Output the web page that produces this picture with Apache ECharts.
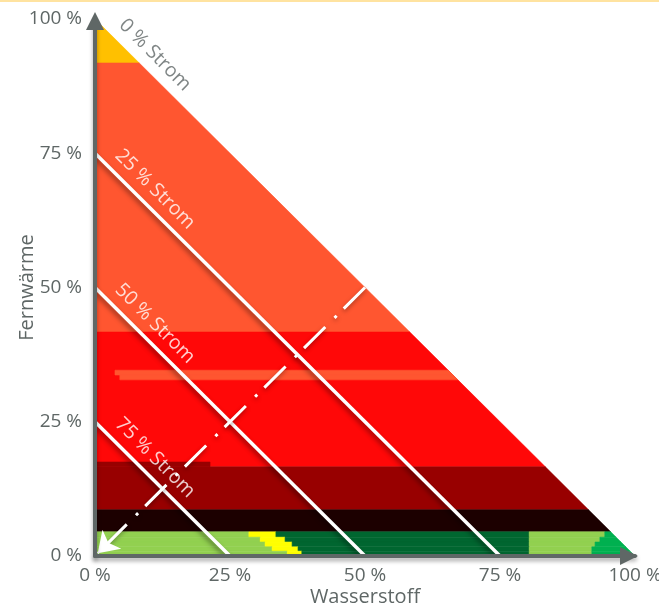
<!DOCTYPE html>
<html>
<head>
<meta charset="utf-8">
<script src="https://cdn.jsdelivr.net/npm/echarts@6/dist/echarts.min.js"></script>
<style>
html,body{margin:0;padding:0;background:#fff;}
#chart{width:659px;height:611px;}
</style>
</head>
<body>
<div id="chart"></div>
<script>
// ---- data (percent values) ----
const tickValues = [0, 25, 50, 75, 100];
const xAxisName = 'Wasserstoff';
const yAxisName = 'Fernwärme';

// upper horizontal bands: [x from, x to, Fernwärme from, Fernwärme to, kind]
const upperBands = [
  [0, 100, 91.8, 100, 'gelb'],
  [0, 100, 41.7, 91.8, 'orange'],
  [0, 100, 16.6, 41.7, 'rot'],
  [3.7, 100, 33.7, 34.6, 'orange'],
  [4.6, 100, 32.8, 33.7, 'orange'],
  [0, 100, 8.6, 16.6, 'dunkelrot'],
  [0, 21.3, 16.6, 17.5, 'dunkelrot'],
  [0, 100, 4.5, 8.6, 'schwarz']
];

// bottom band rows (Fernwärme limits) and where each colour ends (Wasserstoff %)
const bottomRowY = [4.5, 3.5, 2.6, 1.7, 0.9, 0];
const bottomHellgruenEnd = [28.5, 30.6, 31.5, 32.8, 35.6];
const bottomGelbEnd = [33.5, 35.2, 36.5, 37.6, 38.3];
const bottomDunkelgruenEnd = [80.4, 80.4, 80.4, 80.4, 80.4];
const bottomHellgruen2End = [94.4, 93.5, 92.6, 92.0, 92.0];

// Strom iso-lines
const stromLevels = [75, 50, 25];
const stromLabelLevels = [100, 75, 50, 25];
const stromLabelTexts = ['0 % Strom', '25 % Strom', '50 % Strom', '75 % Strom'];

// dashed arrow (start -> end)
const arrowStart = [50, 50];
const arrowEnd = [0.5, 0.5];

// ---- styles ----
const kindColors = {
  gelb: '#ffc000',
  orange: '#ff5630',
  rot: '#ff0808',
  dunkelrot: '#980000',
  schwarz: '#1c0000',
  hellgruen: '#92d050',
  gelb2: '#ffff00',
  dunkelgruen: '#006630',
  mittelgruen: '#00b050'
};
const axisColor = '#5f6766';
const FONT = 'Open Sans';

// build cell list
const cells = upperBands.map(b => b.slice());
for (let i = 0; i < bottomRowY.length - 1; i++) {
  const y0 = bottomRowY[i + 1], y1 = bottomRowY[i];
  cells.push([0, bottomHellgruenEnd[i], y0, y1, 'hellgruen']);
  cells.push([bottomHellgruenEnd[i], bottomGelbEnd[i], y0, y1, 'gelb2']);
  cells.push([bottomGelbEnd[i], bottomDunkelgruenEnd[i], y0, y1, 'dunkelgruen']);
  cells.push([bottomDunkelgruenEnd[i], bottomHellgruen2End[i], y0, y1, 'hellgruen']);
  cells.push([bottomHellgruen2End[i], 100, y0, y1, 'mittelgruen']);
}
const kinds = Object.keys(kindColors);
const cellData = cells.map(c => [c[0], c[1], c[2], c[3], kinds.indexOf(c[4])]);

function clipPoly(x0, x1, y0, y1) {
  // rectangle clipped to triangle x + y <= 100
  const pts = [];
  pts.push([x0, y0]);
  pts.push([Math.min(x1, 100 - y0), y0]);
  if (x1 < 100 - y0 && x1 > 100 - y1) pts.push([x1, 100 - x1]);
  pts.push([Math.min(x1, 100 - y1), y1]);
  pts.push([x0, y1]);
  return pts;
}

const labelData = stromLabelLevels.map((L, i) => ({
  name: stromLabelTexts[i],
  value: [11.1, L - 11.1 + 4.4],
  label: { color: i === 0 ? axisColor : '#ffffff' }
}));

const chart = echarts.init(document.getElementById('chart'), null, { renderer: 'canvas' });

const axisLineCommon = {
  show: true,
  symbol: ['none', 'triangle'],
  symbolSize: [18, 18],
  lineStyle: {
    color: axisColor, width: 4,
    shadowColor: 'rgba(0,0,0,0.35)', shadowBlur: 4, shadowOffsetY: 3
  }
};

chart.setOption({
  animation: false,
  backgroundColor: '#ffffff',
  textStyle: { fontFamily: FONT },
  graphic: [{
    type: 'rect', shape: { x: 0, y: 0, width: 659, height: 2 },
    style: { fill: '#ffe3a0' }, z: 100
  }],
  grid: { left: 95, right: 24, top: 19, bottom: 55, containLabel: false, outerBoundsMode: 'none' },
  xAxis: {
    type: 'value', min: 0, max: 100, interval: 25, z: 10,
    name: xAxisName, nameLocation: 'middle', nameGap: 31, nameMoveOverlap: false,
    nameTextStyle: { fontSize: 20, color: axisColor, fontFamily: FONT },
    axisLine: Object.assign({}, axisLineCommon, { symbolOffset: [0, -6] }),
    axisTick: { show: false },
    splitLine: { show: false },
    axisLabel: { formatter: '{value} %', fontSize: 19, color: axisColor, margin: 10, fontFamily: FONT }
  },
  yAxis: {
    type: 'value', min: 0, max: 100, interval: 25, z: 10,
    name: yAxisName, nameLocation: 'middle', nameGap: 58, nameMoveOverlap: false,
    nameTextStyle: { fontSize: 20, color: axisColor, fontFamily: FONT },
    axisLine: Object.assign({}, axisLineCommon, { symbolOffset: [0, -2] }),
    axisTick: { show: false },
    splitLine: { show: false },
    axisLabel: { formatter: '{value} %', fontSize: 19, color: axisColor, margin: 13, fontFamily: FONT }
  },
  series: [
    {
      type: 'custom',
      coordinateSystem: 'cartesian2d',
      data: cellData,
      z: 1,
      silent: true,
      renderItem: function (params, api) {
        const poly = clipPoly(api.value(0), api.value(1), api.value(2), api.value(3));
        const color = kindColors[kinds[api.value(4)]];
        return {
          type: 'polygon',
          shape: { points: poly.map(p => api.coord(p)) },
          style: { fill: color, stroke: color, lineWidth: 0.6 }
        };
      }
    },
    {
      type: 'lines',
      coordinateSystem: 'cartesian2d',
      z: 3,
      silent: true,
      symbol: ['none', 'none'],
      lineStyle: {
        color: '#ffffff', width: 3.5, opacity: 1,
        shadowColor: 'rgba(0,0,0,0.45)', shadowBlur: 5, shadowOffsetX: -1, shadowOffsetY: 3
      },
      data: stromLevels.map(L => ({ coords: [[0, L], [L, 0]] }))
    },
    {
      type: 'lines',
      coordinateSystem: 'cartesian2d',
      z: 4,
      silent: true,
      symbol: ['none', 'arrow'],
      symbolSize: 20,
      lineStyle: {
        color: '#ffffff', width: 3, opacity: 1, type: [30, 10, 3, 13],
        shadowColor: 'rgba(0,0,0,0.35)', shadowBlur: 4, shadowOffsetY: 2
      },
      data: [{ coords: [arrowStart, arrowEnd] }]
    },
    {
      type: 'scatter',
      z: 5,
      silent: true,
      symbolSize: 0,
      data: labelData,
      label: {
        show: true, position: 'inside', rotate: -45,
        formatter: '{b}', fontSize: 19.5, fontFamily: FONT
      }
    }
  ]
});
</script>
</body>
</html>
